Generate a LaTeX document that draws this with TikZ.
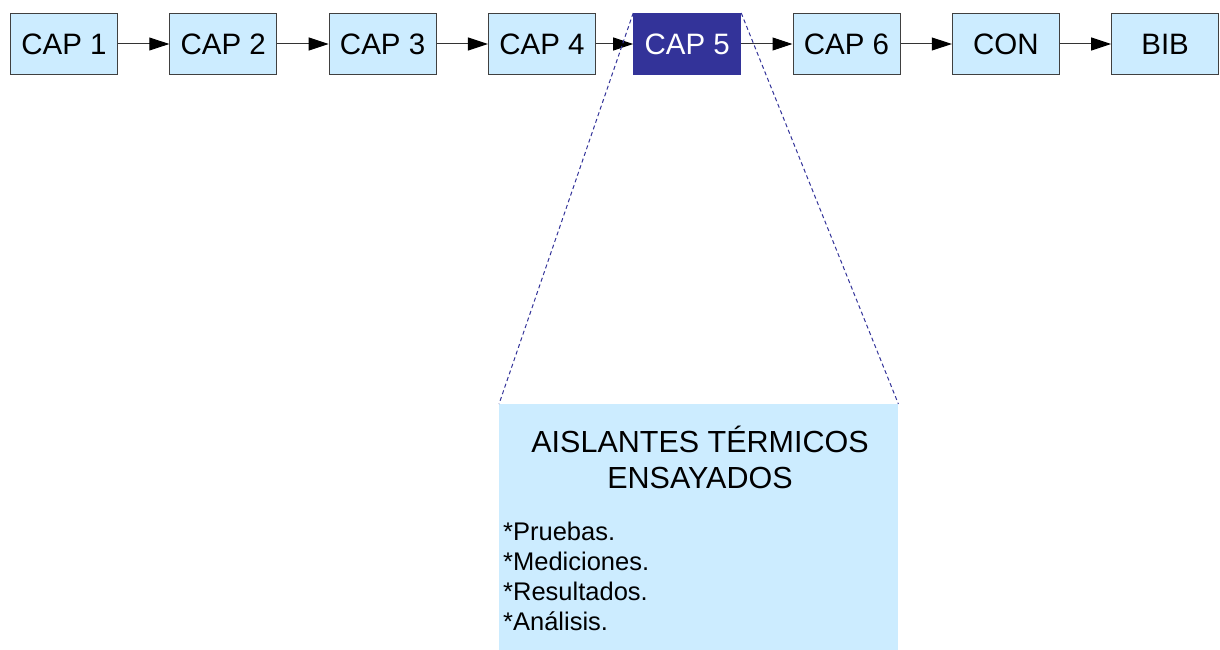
\documentclass[tikz,border=0pt]{standalone}
\usepackage{fontspec}
\setmainfont{Liberation Sans}
\usetikzlibrary{arrows.meta,positioning}
\definecolor{caplight}{RGB}{204,236,255}
\definecolor{capdark}{RGB}{51,51,153}

\begin{document}
\begin{tikzpicture}[
    chap/.style={draw=black!75,line width=1pt,fill=caplight,
                 minimum width=107pt,minimum height=61pt,inner sep=0pt,
                 font=\fontsize{29.5}{34}\selectfont,text=black},
    chapsel/.style={chap,fill=capdark,draw=capdark,text=white},
    arr/.style={-{Triangle[length=20pt,width=13pt,black]},line width=1pt,black!80},
    zoomln/.style={dashed,dash pattern=on 4pt off 3pt,capdark,line width=1pt},
  ]
    \useasboundingbox (0,0) rectangle (1220pt,-650pt);
    \node[chap](c1) at (64pt,-44pt){CAP 1};
    \node[chap,right=51.3pt of c1](c2){CAP 2};
    \node[chap,right=51.3pt of c2](c3){CAP 3};
    \node[chap,right=51.3pt of c3](c4){CAP 4};
    \node[chapsel,right=37.3pt of c4](c5){CAP 5};
    \node[chap,right=51.3pt of c5](c6){CAP 6};
    \node[chap,right=51.3pt of c6](con){CON};
    \node[chap,right=51.3pt of con](bib){BIB};
    \draw[arr](c1)--(c2); \draw[arr](c2)--(c3);
    \draw[arr](c3)--(c4); \draw[arr](c4)--(c5);
    \draw[arr](c5)--(c6); \draw[arr](c6)--(con);
    \draw[arr](con)--(bib);
    % detail of chapter 5
    \node[fill=caplight,minimum width=399pt,minimum height=246pt,
          inner sep=0pt,anchor=north west](det) at (499pt,-404pt){};
    \node[align=center,font=\fontsize{30.5}{36}\selectfont,inner sep=0pt]
      (dtitle) at (700pt,-457pt){AISLANTES TÉRMICOS\\ENSAYADOS};
    \node[align=left,anchor=north west,inner sep=0pt,
          font=\fontsize{25.5}{30}\selectfont]
      (dlist) at (503pt,-522pt){*Pruebas.\\*Mediciones.\\*Resultados.\\*Análisis.};
    \draw[zoomln](c5.north west)--(det.north west);
    \draw[zoomln](c5.north east)--(det.north east);
  \end{tikzpicture}
\end{document}
